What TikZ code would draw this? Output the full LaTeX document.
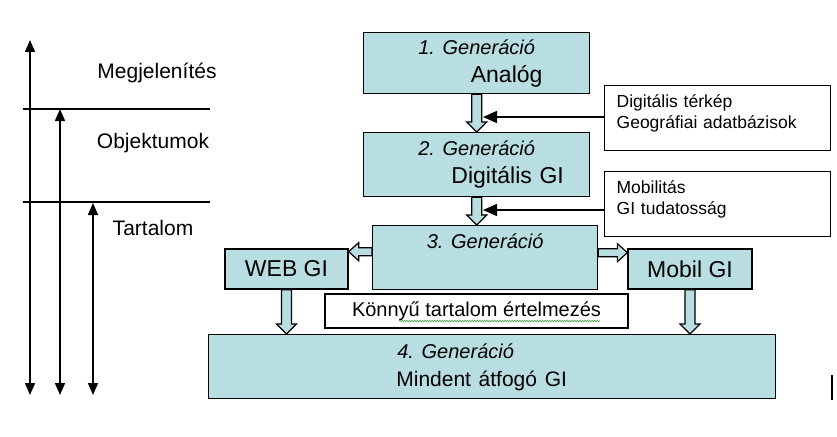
\documentclass[tikz,border=0pt]{standalone}
\usepackage{fontspec}
\setmainfont{Liberation Sans}
\usetikzlibrary{arrows.meta,calc,decorations.pathmorphing}

\definecolor{genfill}{RGB}{184,222,226}
\definecolor{spellgreen}{RGB}{70,160,70}

\tikzset{
    genbox/.style={draw=black,line width=1.3pt,fill=genfill,inner sep=3pt,
        align=center,anchor=north west,font=\fontsize{23}{28}\selectfont},
    sidebox/.style={draw=black,line width=1.3pt,fill=white,inner xsep=12pt,inner ysep=3pt,
        align=left,anchor=north west,text width=202pt,text height=19pt,text depth=40pt,
        font=\fontsize{17.5}{21}\selectfont},
    blkarrow/.style={draw=black,line width=1.2pt,fill=genfill},
    feedarrow/.style={line width=1.5pt,-{Triangle[length=14pt,width=12pt]}},
    levelarrow/.style={line width=1.5pt,{Triangle[length=12pt,width=10pt]}-{Triangle[length=12pt,width=10pt]}},
    levellabel/.style={font=\fontsize{21}{25}\selectfont},
}

% hollow block arrows, start point and tip
\newcommand\blkdown[2]{%
    \filldraw[blkarrow] let \p1=(#1), \p2=(#2) in
        (\x1-5pt,\y1) -- (\x1-5pt,\y2+10pt) -- (\x1-10pt,\y2+10pt) -- (\x1,\y2)
        -- (\x1+10pt,\y2+10pt) -- (\x1+5pt,\y2+10pt) -- (\x1+5pt,\y1) -- cycle;}
\newcommand\blkside[2]{%
    \filldraw[blkarrow] let \p1=(#1), \p2=(#2), \n1={ifthenelse(\x2>\x1,1,-1)} in
        (\x1,\y1-4pt) -- (\x2-\n1*10pt,\y1-4pt) -- (\x2-\n1*10pt,\y1-9pt) -- (\x2,\y1)
        -- (\x2-\n1*10pt,\y1+9pt) -- (\x2-\n1*10pt,\y1+4pt) -- (\x1,\y1+4pt) -- cycle;}

\begin{document}
\begin{tikzpicture}[x=1pt,y=-1pt]
\useasboundingbox (0,0) rectangle (837,436);

% Draw the levels on the left
\draw[line width=1.2pt] (23,109) -- (210,109);
\draw[line width=1.2pt] (23,202) -- (210,202);
\draw[levelarrow] (30,40) -- (30,395);
\draw[levelarrow] (60,109) -- (60,395);
\draw[levelarrow] (93,203) -- (93,395);
\node[levellabel] (megj) at (157,73) {Megjelenítés};
\node[levellabel] (obj) at (153,143) {Objektumok};
\node[levellabel] (tart) at (153,228) {Tartalom};

% Draw the generations
\node[genbox,text width=220pt,text height=19pt,text depth=36pt] (gen1) at (363,32)
    {{\fontsize{20}{24}\selectfont\itshape 1.\ Generáció}\\\hspace*{60pt}Analóg};
\node[genbox,text width=220pt,text height=20pt,text depth=38pt] (gen2) at (363,132)
    {{\fontsize{20}{24}\selectfont\itshape 2.\ Generáció}\\\hspace*{62pt}Digitális GI};
\node[genbox,text width=219pt,text height=20pt,text depth=38pt] (gen3) at (372,225)
    {{\fontsize{20}{24}\selectfont\itshape 3.\ Generáció}};
\node[genbox,text width=561pt,text height=21pt,text depth=37pt] (gen4) at (208,334)
    {{\fontsize{20}{24}\selectfont\itshape 4.\ Generáció}\hspace*{73pt}\mbox{}\\{\fontsize{21}{25}\selectfont Mindent átfogó GI}\hspace*{21pt}\mbox{}};
\node[genbox,anchor=center,inner sep=0pt,minimum width=123pt,minimum height=40pt] (web) at (286.5,269) {WEB GI};
\node[genbox,anchor=center,inner sep=0pt,minimum width=124pt,minimum height=40pt] (mobil) at (690,269) {Mobil GI};
\node[draw=black,line width=1.3pt,fill=white,inner sep=0pt,minimum width=303pt,minimum height=34pt,
    font=\fontsize{20}{24}\selectfont] (konnyu) at (476.5,311) {Könnyű tartalom értelmezés};
\draw[spellgreen,line width=0.6pt,decorate,decoration={snake,amplitude=0.8pt,segment length=2.5pt}]
    (399,321) -- (600,321);

% Draw the side boxes
\node[sidebox] (side1) at (604,85) {Digitális térkép\\Geográfiai adatbázisok};
\node[sidebox] (side2) at (604,171) {Mobilitás\\GI tudatosság};

% Draw the block arrows between the boxes
\blkdown{gen1.south}{gen1.south |- gen2.north}
\blkdown{gen2.south}{gen2.south |- gen3.north}
\blkside{[yshift=6pt]gen3.west}{[yshift=6pt]web.east}
\blkside{[yshift=5pt]gen3.east}{[yshift=5pt]mobil.west}
\blkdown{web.south}{web.south |- gen4.north}
\blkdown{mobil.south}{mobil.south |- gen4.north}

% Draw the feed arrows
\coordinate (feed1) at (483,117);
\coordinate (feed2) at (483,210);
\draw[feedarrow] (side1.west |- feed1) -- (feed1);
\draw[feedarrow] (side2.west |- feed2) -- (feed2);

% Cursor mark
\draw[line width=2pt] (832,375) -- (832,400);

\end{tikzpicture}
\end{document}
